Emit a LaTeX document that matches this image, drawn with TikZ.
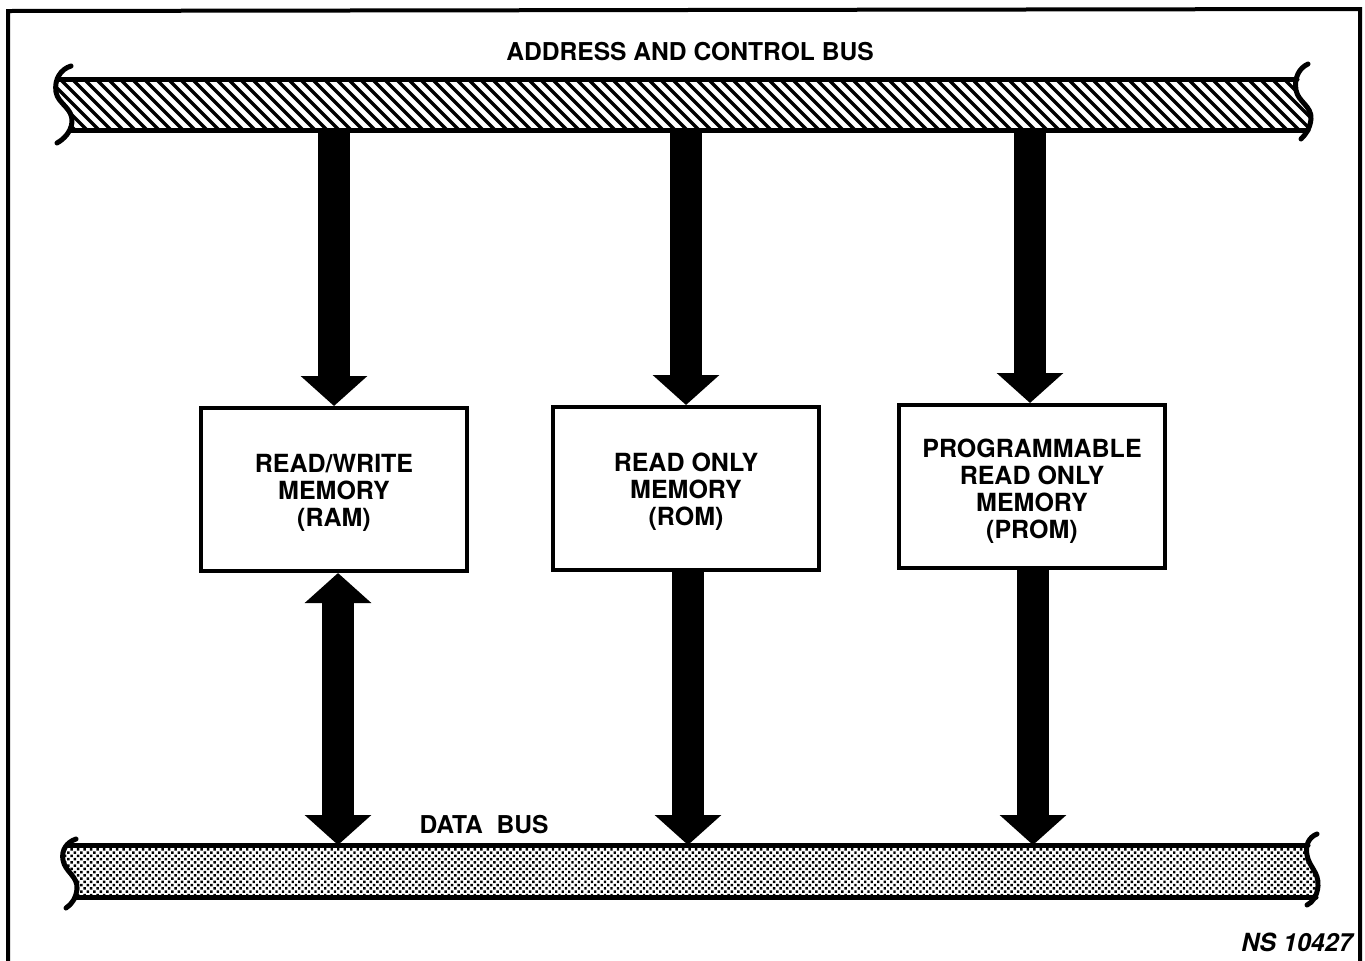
\documentclass[tikz,border=0pt]{standalone}
\usepackage{fontspec}
\setmainfont{TeX Gyre Heros}
\usetikzlibrary{arrows.meta,patterns.meta,calc}
\begin{document}
\begin{tikzpicture}[x=0.5pt,y=-0.5pt,
  box/.style={draw, line width=2pt, minimum width=133pt, minimum height=81.5pt, inner sep=0pt},
  boxtext/.style={align=center, inner sep=0pt, font=\bfseries\fontsize{12.5}{13.5}\selectfont},
  lbl/.style={font=\bfseries\fontsize{12.3}{15}\selectfont, inner sep=0pt},
  bigarrow/.style={line width=16pt, -{Triangle[length=15pt,width=32.5pt]}},
  dblarrow/.style={line width=16pt, {Triangle[length=15pt,width=32.5pt]}-{Triangle[length=15pt,width=32.5pt]}},
  busline/.style={line width=2.5pt, line cap=round, line join=round},
  hatch/.style={line width=1.6pt}]
\useasboundingbox (0,0) rectangle (1365,960);
% frame
\draw[line width=2pt] (8,962) -- (8,11) -- (1360,9) -- (1360,962);
% title
\node[lbl] (title) at (690,52) {ADDRESS AND CONTROL BUS};
% ---------- address bus ----------
\begin{scope}
  \clip (0,79) rectangle (1365,130);
  \clip (71,66) .. controls (61,69) and (54,79) .. (56,92) .. controls (58,104) and (73,108) .. (72,122)
     .. controls (71,132) and (64,139) .. (57,143) -- (1301,139)
     .. controls (1305,135) and (1310,129) .. (1311,119) .. controls (1312,106) and (1298,102) .. (1296,90)
     .. controls (1294,78) and (1299,68) .. (1308,64) -- cycle;
  \foreach \x in {-60,-48,...,1320} {\draw[hatch] (\x,79) -- (\x+51,130);}
\end{scope}
\draw[busline] (71,66) .. controls (61,69) and (54,79) .. (56,92) .. controls (58,104) and (73,108) .. (72,122)
     .. controls (71,132) and (64,139) .. (57,143);
\draw[busline] (1308,64) .. controls (1299,68) and (1294,78) .. (1296,90) .. controls (1298,102) and (1312,106) .. (1311,119)
     .. controls (1310,129) and (1305,135) .. (1301,139);
\draw[busline] (59,79) -- (1297,79);
\draw[busline] (70,130) -- (1308,130);
\coordinate (abus) at (0,128);
% ---------- data bus ----------
\begin{scope}
  \clip (0,845) rectangle (1365,897);
  \fill[pattern={Dots[distance=2.3pt, radius=0.85pt, angle=45]}, pattern color=black]
     (76,839) .. controls (67,842) and (61,850) .. (63,860) .. controls (65,872) and (78,876) .. (77,889)
     .. controls (76,898) and (72,904) .. (66,908) -- (1307,905)
     .. controls (1313,902) and (1317,896) .. (1318,886) .. controls (1319,872) and (1309,867) .. (1307,855)
     .. controls (1305,845) and (1309,837) .. (1317,834) -- cycle;
\end{scope}
\draw[busline] (76,839) .. controls (67,842) and (61,850) .. (63,860) .. controls (65,872) and (78,876) .. (77,889)
     .. controls (76,898) and (72,904) .. (66,908);
\draw[busline] (1317,834) .. controls (1309,837) and (1305,845) .. (1307,855) .. controls (1309,867) and (1319,872) .. (1318,886)
     .. controls (1317,896) and (1313,902) .. (1307,905);
\draw[busline] (67,845) -- (1308,845);
\draw[busline] (75,897) -- (1316,897);
\coordinate (dbus) at (0,845);
\node[lbl] (datalbl) at (484,825) {DATA\ \ BUS};
% ---------- memory boxes ----------
\node[box] (ram) at (334,489.5) {};
\node[box] (rom) at (686,488.5) {};
\node[box] (prom) at (1032,486.5) {};
\node[boxtext] (ramtext) at ([yshift=-1.5pt]ram.center) {READ/WRITE\\MEMORY\\(RAM)};
\node[boxtext] (romtext) at ([yshift=-1.5pt]rom.center) {READ ONLY\\MEMORY\\(ROM)};
\node[boxtext] (promtext) at ([yshift=-2.5pt]prom.center) {PROGRAMMABLE\\READ ONLY\\MEMORY\\(PROM)};
% ---------- arrows ----------
\draw[bigarrow] (ram.north |- abus) -- (ram.north);
\draw[bigarrow] (rom.north |- abus) -- (rom.north);
\draw[bigarrow] ([xshift=-1pt]prom.north |- abus) -- ([xshift=-1pt]prom.north);
\draw[dblarrow] ([xshift=2pt]ram.south) -- ([xshift=2pt]ram.south |- dbus);
\draw[bigarrow] ([xshift=1pt]rom.south) -- ([xshift=1pt]rom.south |- dbus);
\draw[bigarrow] ([xshift=0.5pt]prom.south) -- ([xshift=0.5pt]prom.south |- dbus);
% ---------- reference number ----------
\node[lbl, font=\bfseries\itshape\fontsize{12.5}{15}\selectfont, anchor=east] (ref) at (1353,942) {NS 10427};
\end{tikzpicture}
\end{document}
